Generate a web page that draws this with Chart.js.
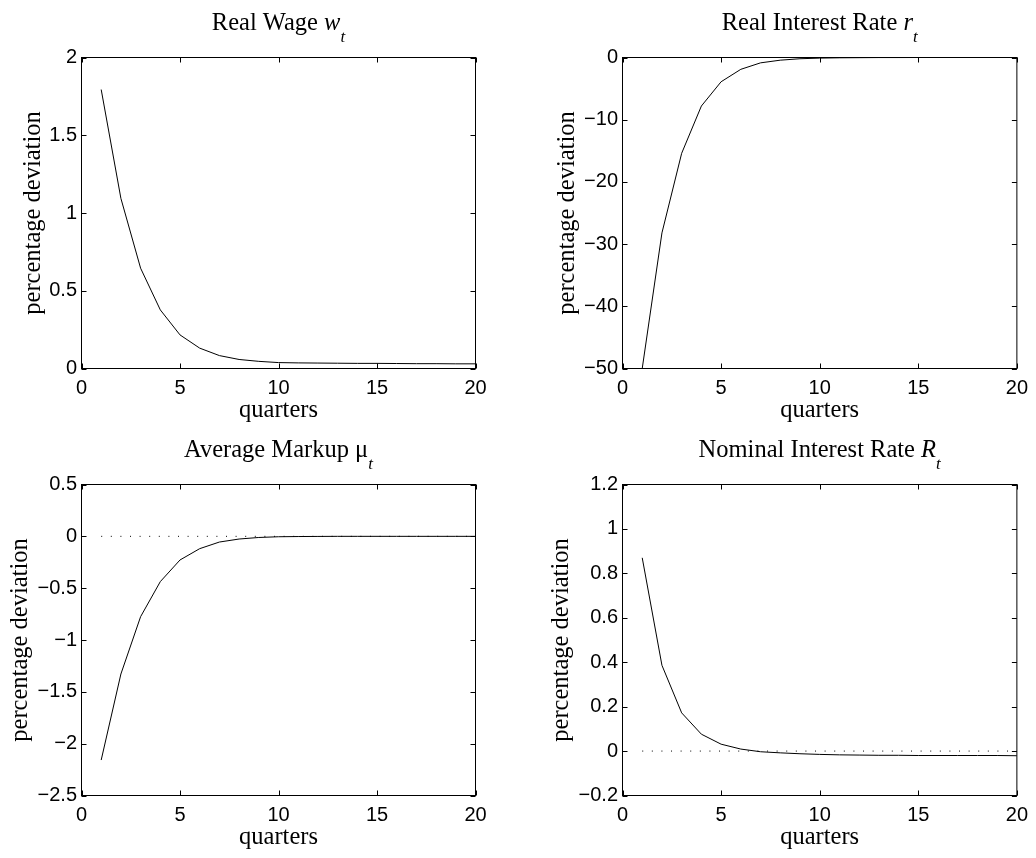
<!DOCTYPE html>
<html><head><meta charset="utf-8">
<script src="https://cdn.jsdelivr.net/npm/chart.js@4/dist/chart.umd.min.js"></script>
<style>
html,body{margin:0;padding:0;background:#fff;width:1036px;height:858px;overflow:hidden;}
canvas{position:absolute;}
</style></head>
<body>
<canvas id="c1" width="518" height="429" style="left:0;top:0"></canvas>
<canvas id="c2" width="518" height="429" style="left:518px;top:0"></canvas>
<canvas id="c3" width="518" height="429" style="left:0;top:429px"></canvas>
<canvas id="c4" width="518" height="429" style="left:518px;top:429px"></canvas>
<script>
// ---- data ----
const quarters = [1,2,3,4,5,6,7,8,9,10,11,12,13,14,15,16,17,18,19,20];
const realWage = [1.794,1.094,0.645,0.377,0.216,0.131,0.083,0.058,0.046,0.038,0.036,0.035,0.034,0.033,0.033,0.032,0.031,0.031,0.030,0.030];
const realInterest = [-50.0,-28.2,-15.4,-7.8,-3.9,-1.9,-0.86,-0.43,-0.2,-0.1,-0.05,-0.03,-0.01,-0.01,0,0,0,0,0,0];
const avgMarkup = [-2.158,-1.328,-0.775,-0.437,-0.228,-0.119,-0.055,-0.026,-0.011,-0.004,-0.002,-0.001,0,0,0,0,0,0,0,0];
const nominalInterest = [0.870,0.386,0.172,0.076,0.031,0.009,-0.003,-0.008,-0.012,-0.015,-0.017,-0.018,-0.019,-0.019,-0.020,-0.020,-0.020,-0.020,-0.020,-0.021];
const steadyState = [0, 0];           // dotted reference line (from first to last quarter)
const xTicks = [0,5,10,15,20];
const wageTicks = [0,0.5,1,1.5,2];
const realRateTicks = [-50,-40,-30,-20,-10,0];
const markupTicks = [-2.5,-2,-1.5,-1,-0.5,0,0.5];
const nominalTicks = [-0.2,0,0.2,0.4,0.6,0.8,1,1.2];
const xLabel = 'quarters';
const yLabel = 'percentage deviation';

const SERIF = '"Liberation Serif","Times New Roman",Times,serif';
const SANS = '"Liberation Sans",Arial,Helvetica,sans-serif';
const SERIF_SIZE = 24.5;

function fmt(v){
  const a = Math.round(Math.abs(v)*1000)/1000;
  return (v < -1e-9 ? '\u2212' : '') + String(a);
}

const boxPlugin = {
  id: 'box',
  afterDraw(chart){
    const {ctx, chartArea:a, scales} = chart;
    ctx.save();
    ctx.strokeStyle = '#000';
    ctx.lineWidth = 1;
    ctx.strokeRect(a.left, a.top, a.right-a.left, a.bottom-a.top);
    const L = 5;
    ctx.beginPath();
    scales.x.ticks.forEach(t => {
      const x = Math.round(scales.x.getPixelForValue(t.value)) + 0.5;
      ctx.moveTo(x, a.bottom); ctx.lineTo(x, a.bottom - L);
      ctx.moveTo(x, a.top); ctx.lineTo(x, a.top + L);
    });
    scales.y.ticks.forEach(t => {
      const y = Math.round(scales.y.getPixelForValue(t.value)) + 0.5;
      ctx.moveTo(a.left, y); ctx.lineTo(a.left + L, y);
      ctx.moveTo(a.right, y); ctx.lineTo(a.right - L, y);
    });
    ctx.stroke();
    // title with italic variable and subscript
    const parts = chart.options.plugins.box.parts;
    const fonts = parts.map(p => (p.italic ? 'italic ' : '') + (p.sub ? 17 : SERIF_SIZE) + 'px ' + SERIF);
    let total = 0;
    const widths = parts.map((p,i) => { ctx.font = fonts[i]; const w = ctx.measureText(p.text).width; total += w; return w; });
    let x = (a.left + a.right)/2 - total/2;
    const base = a.top - 27.3;
    ctx.fillStyle = '#000';
    ctx.textBaseline = 'alphabetic';
    ctx.textAlign = 'left';
    parts.forEach((p,i) => {
      ctx.font = fonts[i];
      ctx.fillText(p.text, x + (p.dx||0), base + (p.sub ? 11.7 : 0));
      x += widths[i] + (p.dx||0);
    });
    ctx.restore();
  }
};

function make(id, values, ticksArr, parts, g, dotted){
  const datasets = [{
    data: quarters.map((q,i) => ({x:q, y:values[i]})),
    borderColor:'#000', borderWidth:1, pointRadius:0, tension:0, fill:false
  }];
  if (dotted){
    datasets.push({
      data: [{x:quarters[0], y:steadyState[0]}, {x:quarters[quarters.length-1], y:steadyState[1]}],
      borderColor:'#000', borderWidth:1, borderDash:[1,8.6], pointRadius:0, fill:false
    });
  }
  const W = 518, H = 429, XH = 60;
  return new Chart(document.getElementById(id), {
    type:'line',
    data:{datasets},
    plugins:[boxPlugin],
    options:{
      responsive:false, animation:false, events:[],
      layout:{padding:{left:0, top:g.top, right:W-g.right, bottom:H-g.bottom-XH}},
      plugins:{legend:{display:false}, tooltip:{enabled:false}, box:{parts}},
      scales:{
        x:{type:'linear', min:0, max:20,
           afterBuildTicks: s => { s.ticks = xTicks.map(v => ({value:v})); },
           afterFit: s => { s.height = XH; },
           grid:{display:false, drawTicks:false}, border:{display:false},
           ticks:{color:'#000', font:{family:SANS, size:20}, padding:8, autoSkip:false, maxRotation:0, callback: v => fmt(v)},
           title:{display:true, text:xLabel, color:'#000', font:{family:SERIF, size:SERIF_SIZE, lineHeight:1}, padding:{top:0,bottom:5.5}}
        },
        y:{type:'linear', min:ticksArr[0], max:ticksArr[ticksArr.length-1],
           afterBuildTicks: s => { s.ticks = ticksArr.map(v => ({value:v})); },
           afterFit: s => { s.width = g.left; },
           grid:{display:false, drawTicks:false}, border:{display:false},
           ticks:{color:'#000', font:{family:SANS, size:20}, padding:4.5, autoSkip:false, callback: v => fmt(v)},
           title:{display:true, text:yLabel, color:'#000', font:{family:SERIF, size:SERIF_SIZE, lineHeight:1}, padding:{top:g.yTitle-12.25, bottom:0}}
        }
      }
    }
  });
}

make('c1', realWage, wageTicks,
  [{text:'Real Wage '},{text:'w', italic:true},{text:'t', italic:true, sub:true}],
  {left:81.5, right:475.5, top:57.5, bottom:368.5, yTitle:33.5}, false);
make('c2', realInterest, realRateTicks,
  [{text:'Real Interest Rate '},{text:'r', italic:true},{text:'t', italic:true, sub:true}],
  {left:104.5, right:499.5, top:57.5, bottom:368.5, yTitle:49.7}, false);
make('c3', avgMarkup, markupTicks,
  [{text:'Average Markup '},{text:'\u03bc'},{text:'t', italic:true, sub:true}],
  {left:81.5, right:475.5, top:55.5, bottom:366.5, yTitle:21}, true);
make('c4', nominalInterest, nominalTicks,
  [{text:'Nominal Interest Rate '},{text:'R', italic:true},{text:'t', italic:true, sub:true}],
  {left:104.5, right:499.5, top:55.5, bottom:366.5, yTitle:43.7}, true);
</script>
</body></html>
